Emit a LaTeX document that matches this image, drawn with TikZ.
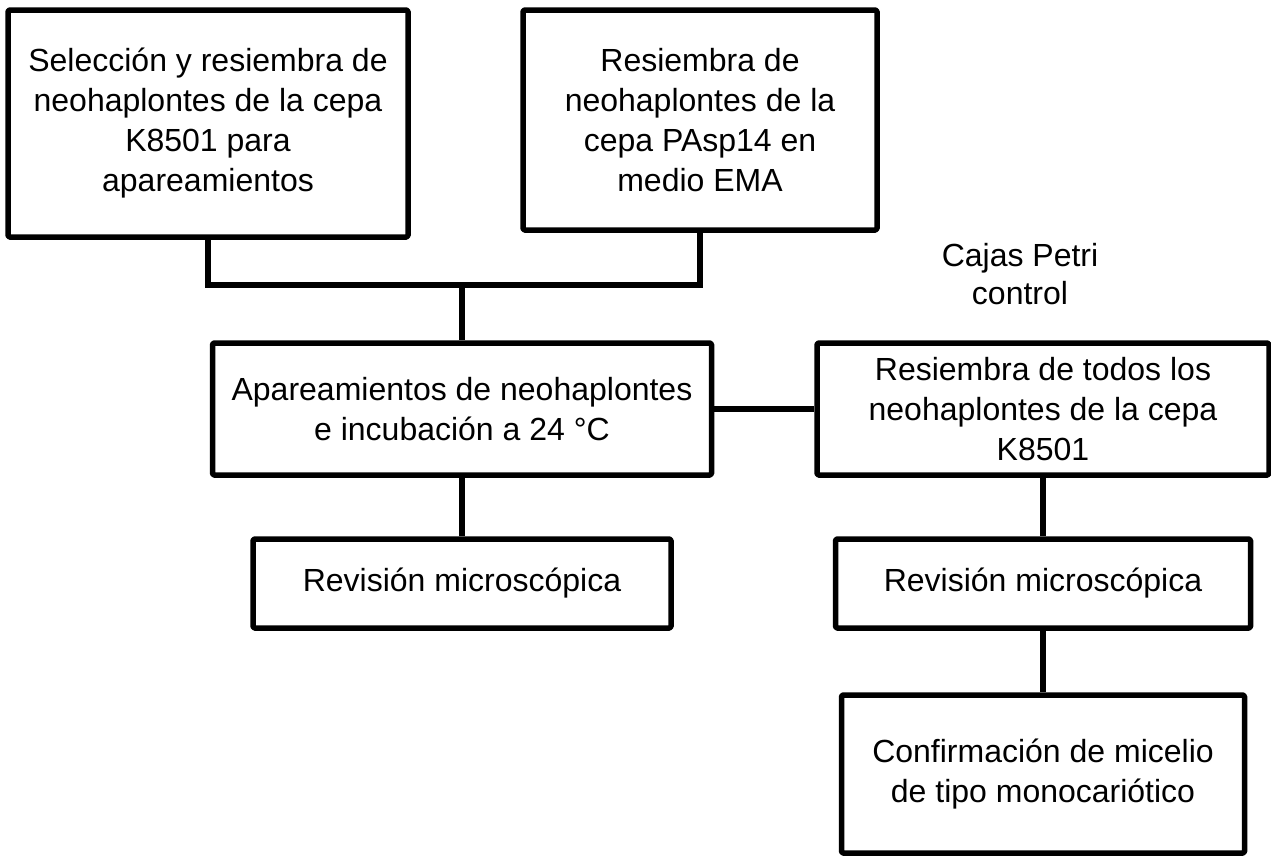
\documentclass[tikz,border=0pt]{standalone}
\usepackage{fontspec}
\setmainfont{Liberation Sans}
\begin{document}
\begin{tikzpicture}[x=1pt,y=-1pt,
  box/.style={draw=black,line width=5.5pt,line join=round,rounded corners=1.5pt,align=center,inner sep=0pt,
    font=\fontsize{32}{40}\selectfont},
  link/.style={draw=black,line width=5.5pt},
  plain/.style={align=center,font=\fontsize{32}{38}\selectfont}]
\useasboundingbox (0,0) rectangle (1271,857);
\node[box,minimum width=400pt,minimum height=227pt] (b1) at (208,123.5) {Selección y resiembra de\\neohaplontes de la cepa\\K8501 para\\apareamientos};
\node[box,minimum width=354pt,minimum height=220pt] (b2) at (700,120) {Resiembra de\\neohaplontes de la\\cepa PAsp14 en\\medio EMA};
\node[box,minimum width=499pt,minimum height=132pt] (b3) at (462,409) {Apareamientos de neohaplontes\\e incubación a 24 °C};
\node[box,minimum width=452pt,minimum height=132pt] (b4) at (1043,409) {Resiembra de todos los\\neohaplontes de la cepa\\K8501};
\node[box,minimum width=418pt,minimum height=89pt] (b5) at (462,583.5) {Revisión microscópica};
\node[box,minimum width=415pt,minimum height=89pt] (b6) at (1043,583.5) {Revisión microscópica};
\node[box,minimum width=403pt,minimum height=158pt] (b7) at (1043,774) {Confirmación de micelio\\de tipo monocariótico};
\node[plain] (t1) at (1020,274) {Cajas Petri\\control};
\coordinate (j) at (462,285);
\draw[link] (b1.south) |- (j) -| (b2.south);
\draw[link] (j) -- (b3.north);
\draw[link] (b3.east) -- (b4.west);
\draw[link] (b3.south) -- (b5.north);
\draw[link] (b4.south) -- (b6.north);
\draw[link] (b6.south) -- (b7.north);
\end{tikzpicture}
\end{document}
